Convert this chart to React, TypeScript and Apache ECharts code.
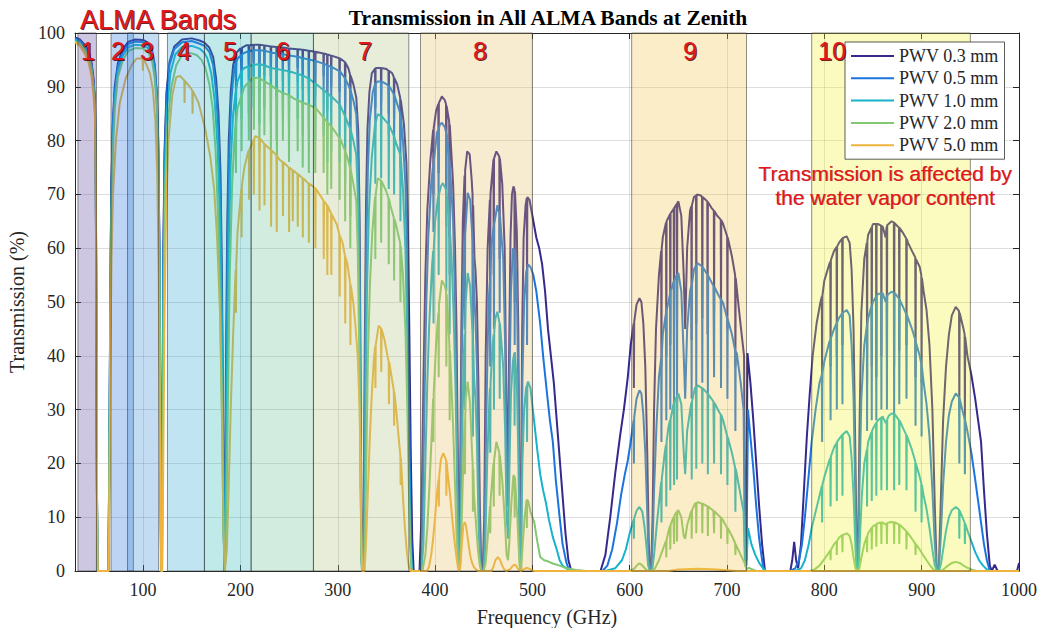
import React, { useEffect, useRef } from "react";
import * as echarts from "echarts";

type Pt = [number, number];

const seriesNames = ["PWV 0.3 mm", "PWV 0.5 mm", "PWV 1.0 mm", "PWV 2.0 mm", "PWV 5.0 mm"];
const seriesColors = ["#34298c", "#1b74de", "#18b2cc", "#80c871", "#eeb43c"];

const pwv03: Pt[] = [
[30,99.2],[35,98.8],[40,97.8],[44,96.6],[47,94.5],[49,91.5],[50.5,87.5],[51.3,76],[52,47],[52.6,14],[53.2,0],[64.3,0],[65.3,22],[66.3,52],[67.3,71],[68.8,83],[70.8,90],[74,94.3],[79,97],[85,98.4],[92,98.8],[100,98.7],[105,98.2],[109,97],[112,94],[114,89],[115.5,80],[116.8,60],[117.8,25],[118.5,0],[119.2,0],[119.8,25],[120.8,60],[122,78],[124,89],[127,94.5],[132,97.5],[140,98.8],[150,99],[158,98.6],[163,98.2],[168,97.3],[172,95.5],[175,91.5],[177.5,85],[179.5,74],[181,55],[182,32],[182.8,10],[183.3,0],[184.2,15],[185.3,42],[186.5,65],[188,80],[190,89],[192.5,94],[195,96],[195.4,91],[195.8,96.3],[200,97.2],[201.2,92.5],[201.6,97.3],[206,97.7],[208.3,97.7],[208.6,93.5],[208.9,97.7],[213.2,97.8],[213.5,94.5],[213.8,97.8],[219.2,97.8],[219.5,91],[219.8,97.8],[224.3,97.7],[224.6,94],[224.9,97.7],[231,97.5],[231.3,92],[231.6,97.5],[236.9,97.4],[237.2,90],[237.5,97.4],[243.3,97.3],[243.6,93],[243.9,97.3],[249.6,97.1],[249.9,91.5],[250.2,97.1],[258.5,97],[258.8,93.5],[259.1,97],[263.7,96.9],[264,92],[264.3,96.9],[270,96.7],[270.3,91],[270.6,96.7],[276.6,96.5],[276.9,90.5],[277.2,96.5],[285.2,96.2],[285.5,92],[285.8,96.2],[289,96],[289.3,88.5],[289.6,96],[293,95.8],[293.3,90],[293.6,95.8],[301.6,95.3],[301.9,89],[302.2,95.3],[307.3,94.6],[307.6,86],[307.9,94.5],[311,93.4],[312.6,92.3],[312.9,80],[313.2,92.1],[316,90.5],[319,88],[321,82],[322.5,65],[323.5,35],[324.3,8],[325,0],[325.8,0],[326.6,12],[327.8,42],[329,68],[330.5,82],[332.5,89],[335,92.5],[338.3,93.4],[338.6,86],[338.9,93.5],[344.3,93.5],[344.6,87],[344.9,93.5],[350,93.3],[352.1,93],[352.4,85],[352.7,93],[356,92.5],[357.6,91.8],[357.9,84],[358.2,91.6],[361,90.5],[364.1,88],[364.4,80],[364.7,87.6],[368,83],[370.5,76],[372,65],[373.5,45],[375,22],[376.5,6],[378,0],
[384,0],[386,10],[388,35],[390,55],[392,67],[395,76],[398,82],[398.3,70],[398.6,82.3],[401,85.5],[403.3,86.8],[403.6,74],[403.9,87],[407,88.2],[410,87.5],[411.2,86.8],[411.5,70],[411.8,86.5],[414.5,83.5],[414.8,62],[415.1,83],[418.5,72],[420.5,60],[422,45],[423.5,20],[424.6,0],[425.5,10],[427,45],[428.5,65],[430.3,73.5],[430.6,55],[430.9,74.5],[433,78],[435.5,77.5],[437.5,73],[438.5,70],[438.8,45],[439.1,68],[440.5,58],[441.5,56],[443,50],[444.5,35],[446,12],[447.5,0],[449,0],[450.5,10],[452,40],[454,60],[456.3,69],[456.6,48],[456.9,70],[460,76.5],[460.3,55],[460.6,76.7],[463,78],[466,77],[466.3,58],[466.6,76.7],[469,72],[471.5,60],[473,35],[474.5,15],[476,40],[477.5,62],[479,70],[480.5,71.5],[481.5,71],[481.8,50],[482.1,70.6],[484,63],[485.5,45],[487,5],[488,5],[489.5,45],[491,62],[493,68],[494.2,69.3],[494.5,52],[494.8,69.5],[497,69],[499,67],[501,65],[504,62],[507,60],[510,57],[513,52],[516,45],[519,40],[522,35],[525,28],[528,21],[531,14],[534,7],[537,2],[540,0],
[570,0],[575,3],[580,10],[585,18],[590,25],[594,30],[598,36],[601,42],[604,46],[604.3,34],[604.6,46.3],[607,49.5],[610,50.7],[612,50],[614,46],[616,38],[618,22],[619.5,6],[620.7,0],[622,0],[623.5,10],[625,30],[627,45],[630,55],[632.3,59.5],[632.6,38],[632.9,60],[634,62],[637.3,64.8],[637.6,40],[637.9,65],[641.4,66.3],[641.7,42],[642,66.5],[645.2,67.3],[645.5,45],[645.8,67.5],[648.3,68.2],[648.6,44],[648.9,68.4],[650,68.7],[653,66],[655.5,55],[657,45],[659,60],[662,67],[663.3,67.8],[663.6,43],[663.9,68],[666,69.5],[668.1,69.8],[668.4,46],[668.7,69.8],[669,70],[673,69.8],[674.3,69.5],[674.6,47],[674.9,69.5],[678,69],[679.7,68.7],[680,44],[680.3,68.6],[684,67.5],[686.4,67],[686.7,48],[687,66.9],[690,66],[693.5,65.3],[693.8,47],[694.1,65.2],[696,64.5],[700.1,62.2],[700.4,45],[700.7,62],[705,58.5],[708.3,55],[708.6,38],[708.9,54.5],[712,49],[715,44],[717.5,40],[718.5,2],[719.5,2],[721,40.5],[724,35],[727,28],[730,20],[733,12],[736,5],[739,0],
[765,0],[767,2],[769,5.4],[771,2],[773,0.5],[776,5],[779,15],[782,25],[785,33],[788,40],[792,46],[796,50],[797.4,51],[797.7,35],[798,51.2],[800,54],[805,57],[806.1,57.5],[806.4,38],[806.7,57.8],[810,59.5],[812.5,60.2],[812.8,40],[813.1,60.3],[815,61],[818.3,61.8],[818.6,42],[818.9,61.9],[823,62.2],[826,61],[828,56],[830,45],[832,20],[833.5,0],[834.5,0],[836,25],[838,48],[841,58],[843.6,61],[843.9,35],[844.2,61.3],[845,62.5],[848.4,63.8],[848.7,38],[849,64],[850,64.5],[853.1,64.5],[853.4,36],[853.7,64.5],[855,64.5],[858.3,64.2],[858.6,40],[858.9,64.1],[860,64],[863,62],[864,64],[864.3,40],[864.6,64.3],[866,64.5],[869,65],[871.4,64.8],[871.7,38],[872,64.7],[873,64.5],[876.7,63.8],[877,41],[877.3,63.8],[881,62.8],[884.1,61.8],[884.4,42],[884.7,61.7],[886,61],[890,59.5],[893.4,58.3],[893.7,36],[894,58],[898,56.5],[899.6,55],[899.9,35],[900.2,54.5],[902,52],[905,48.5],[908,42],[911,30],[913.5,12],[915.5,0],[917.5,0],[919.5,12],[922,28],[925,38],[928,44],[931,47.5],[935,49.1],[938.4,48.3],[938.7,30],[939,48],[943,45],[944.1,44],[944.4,28],[944.7,43.5],[947,40],[951,36.5],[955,32],[958,28],[961,24],[964,15],[967,7],[970,1],[972,0],[975,1.2],[978,0],[998,0],[1000,1.5]
];

const pwv05: Pt[] = [
[30,99],[35,98.6],[40,97.5],[44,96.3],[47,94.1],[49,91],[50.5,87],[51.3,75.5],[52,46.5],[52.6,14],[53.2,0],[64.3,0],[65.3,21],[66.3,51],[67.3,70],[68.8,82],[70.8,89],[74,93.8],[79,96.5],[85,98],[92,98.4],[100,98.3],[105,97.8],[109,96.5],[112,93.5],[114,88.5],[115.5,79],[116.8,59],[117.8,24],[118.5,0],[119.2,0],[119.8,24],[120.8,58],[122,76],[124,88],[127,94],[132,97],[140,98.3],[150,98.5],[158,98],[163,97.6],[168,96.5],[172,94],[175,89],[177.5,81],[179.5,68],[181,48],[182,27],[182.8,8],[183.5,0],[184.5,12],[185.6,38],[187,62],[188.5,77],[190.5,87],[193,92.5],[195.1,94.3],[195.4,88],[195.7,94.6],[197,95.2],[200.9,95.9],[201.2,90],[201.5,96],[204,96.3],[208.3,96.6],[208.6,91.5],[208.9,96.6],[213.2,96.8],[213.5,92],[213.8,96.8],[219.2,96.8],[219.5,89],[219.8,96.8],[224.3,96.7],[224.6,92],[224.9,96.7],[231,96.4],[231.3,90],[231.6,96.4],[236.9,96.2],[237.2,88],[237.5,96.2],[243.3,96.1],[243.6,91],[243.9,96.1],[249.6,95.8],[249.9,89.5],[250.2,95.8],[258.5,95.6],[258.8,91],[259.1,95.6],[263.7,95.3],[264,89.5],[264.3,95.3],[270,95.1],[270.3,88.5],[270.6,95.1],[276.6,94.8],[276.9,88],[277.2,94.8],[285.2,94.3],[285.5,89],[285.8,94.3],[289,94],[289.3,85.5],[289.6,94],[293,93.7],[293.3,87],[293.6,93.7],[301.6,92.9],[301.9,86],[302.2,92.9],[307.3,91.6],[307.6,82],[307.9,91.4],[310.5,90.5],[312.6,89.5],[312.9,76],[313.2,89.3],[316,87.5],[319,84.9],[321,76],[322.5,55],[323.5,25],[324.3,3],[325,0],[326.3,0],[327,8],[328,35],[329.3,60],[331,75],[333,84],[336,89],[338.3,90.5],[338.6,82],[338.9,90.6],[341,91],[344.3,91],[344.6,83],[344.9,91],[350,90.5],[352.1,90.2],[352.4,81],[352.7,90.1],[354,89.8],[357.6,88.6],[357.9,80],[358.2,88.4],[359,88],[364.1,85.1],[364.4,75],[364.7,84.6],[367,80],[369.5,72],[371.5,55],[373,35],[374.5,12],[376,2],[377,0],
[385,0],[387,8],[389,30],[391,50],[393,62],[396,72],[398,75.5],[398.3,63],[398.6,76],[402,81.5],[403.3,82],[403.6,68],[403.9,82.3],[405,83],[407,83.3],[410,82.5],[411.2,81.6],[411.5,64],[411.8,81.3],[413,79.5],[414.6,76.5],[414.9,55],[415.2,75.8],[418.5,65],[420.5,50],[422,32],[423.5,10],[424.6,0],[425.8,8],[427.3,38],[429,55],[430.3,61.5],[430.6,45],[430.9,62.5],[433.5,70.3],[436,69],[438,63],[438.6,61],[438.9,38],[439.2,59],[440,52],[441.5,47],[443,38],[444.5,22],[446,5],[447.5,0],[449.5,0],[451,8],[453,32],[455,50],[456.3,54],[456.6,38],[456.9,55],[458,61],[460.2,64],[460.5,45],[460.8,64.5],[464,68],[466.1,66.3],[466.4,48],[466.7,66],[470,58],[472,42],[473.5,20],[475,12],[476.5,35],[478,52],[480,60],[481.5,59.6],[481.8,42],[482.1,59.2],[484,52],[485.5,35],[487,3],[488.3,3],[489.7,35],[491.5,50],[493.5,55.5],[494.2,56],[494.5,42],[494.8,56.3],[495.5,57],[498,56.5],[501,55],[504,52],[508,46],[511,40],[515,33],[518,28],[521,24],[524,17],[528,10],[531,5],[535,1.5],[538,0],
[572,0],[577,1],[582,4],[587,9],[591,14],[595,18],[598,20.5],[601,24],[604,28],[604.3,20],[604.6,28.5],[607,32],[610,33.6],[612,33],[614,29],[616,22],[618,11],[619.5,2],[620.7,0],[622,0],[623.5,5],[625,15],[627.5,27],[630,36],[632.3,39.5],[632.6,24],[632.9,40],[634,44],[637.3,48],[637.6,28],[637.9,48.3],[641.4,51.5],[641.7,30],[642,52],[645.2,53.8],[645.5,31],[645.8,54],[648.3,55],[648.6,30],[648.9,55.1],[650,55.4],[653,52],[655.5,40],[657,32],[659,45],[662,52],[663.3,53],[663.6,32],[663.9,53.3],[666,56],[668.1,56.8],[668.4,34],[668.7,56.9],[670,57.2],[674.3,56.6],[674.6,35],[674.9,56.5],[680,55],[680.3,33],[680.6,54.9],[686,53],[686.4,52.9],[686.7,36],[687,52.8],[692,51],[693.5,50.5],[693.8,34],[694.1,50.4],[696,49.8],[700.1,47],[700.4,32],[700.7,46.8],[705,44],[708.3,41],[708.6,26],[708.9,40.8],[710,40.5],[714,35],[717,30],[718.5,2],[720,2],[721.5,30],[724,25],[727,19],[730,12],[733,6],[736,2],[738,0],
[765,0],[770,0.5],[774,2],[777,5],[780,10],[783,16],[787,24],[791,30],[795,35],[797.4,36.5],[797.7,24],[798,36.8],[800,39],[805,42.5],[806.1,43],[806.4,28],[806.7,43.3],[810,45],[812.5,46],[812.8,30],[813.1,46.2],[815,47],[818.3,47.9],[818.6,31],[818.9,48],[823,48.5],[826,47.5],[828,42],[830,32],[832,12],[833.5,0],[834.5,0],[836,15],[838,32],[841,42],[843.6,45.5],[843.9,26],[844.2,45.8],[845,47],[848.4,49.2],[848.7,28],[849,49.3],[850,50],[853.1,51],[853.4,28],[853.7,51.1],[855,51.5],[858.3,51.6],[858.6,30],[858.9,51.6],[860,51.6],[863,50],[864,51],[864.3,30],[864.6,51.2],[866,51.5],[869,51.9],[871.4,51.7],[871.7,29],[872,51.7],[873,51.5],[876.7,50.6],[877,31],[877.3,50.5],[881,49],[884.1,47.8],[884.4,32],[884.7,47.7],[886,47],[890,45],[893.4,43],[893.7,27],[894,42.5],[898,40],[899.6,38.5],[899.9,25],[900.2,38],[902,35],[905,31],[908,25],[911,15],[913.5,5],[915.5,0],[917.5,0],[919.5,6],[922,16],[925,24],[928,29],[931,31.5],[935,33],[938.4,32.3],[938.7,20],[939,32],[943,29],[944.1,28.3],[944.4,18],[944.7,28],[947,26],[951,22],[955,17],[958,13],[961,9],[964,5],[967,2],[970,0],[1000,0]
];

const pwv10: Pt[] = [
[30,98.8],[35,98.3],[40,97.2],[44,96],[47,93.7],[49,90.5],[50.5,86.5],[51.3,75],[52,46],[52.6,13.5],[53.2,0],[64.3,0],[65.3,20],[66.3,50],[67.3,68.5],[68.8,80.5],[70.8,88],[74,93],[79,95.8],[85,97.4],[92,97.8],[100,97.7],[105,97.2],[109,95.8],[112,92.5],[114,87.5],[115.5,78],[116.8,57],[117.8,22],[118.5,0],[119.3,0],[120,22],[121,56],[122.3,74],[124.5,86],[128,92.5],[133,96],[140,97.4],[150,97.6],[158,97.1],[163,96.3],[166,95.3],[170,92.5],[173.5,87.5],[176.5,79],[178.8,66],[180.5,48],[181.8,27],[182.8,8],[183.8,0],[185,12],[186.3,38],[188,60],[190,76],[192.5,85],[195.1,89],[195.4,80],[195.7,89.5],[197,91],[200.9,92.8],[201.2,84],[201.5,93],[204,93.5],[208.3,93.8],[208.6,85],[208.9,93.8],[213.2,94.1],[213.5,86],[213.8,94.1],[219.2,94.2],[219.5,83],[219.8,94.2],[224.3,94],[224.6,86],[224.9,94],[231,93.5],[231.3,83],[231.6,93.5],[236.9,93.3],[237.2,80],[237.5,93.3],[243.3,93.1],[243.6,85],[243.9,93.1],[249.6,92.9],[249.9,82],[250.2,92.9],[258.5,92.4],[258.8,84],[259.1,92.4],[263.7,92.1],[264,81],[264.3,92.1],[270,91.5],[270.3,80],[270.6,91.5],[276.6,90.6],[276.9,80],[277.2,90.6],[285.2,89.4],[285.5,81],[285.8,89.4],[289,88.8],[289.3,76],[289.6,88.8],[293,88.2],[293.3,78],[293.6,88.2],[301.6,86.8],[301.9,76],[302.2,86.7],[307.3,84.6],[307.6,72],[307.9,84.4],[310.5,83.2],[312.6,82.2],[312.9,66],[313.2,82],[316,80],[319,77.4],[321,68],[322.5,45],[323.5,18],[324.3,2],[325,0],[326.6,0],[327.4,6],[328.5,28],[330,52],[332,67],[335,77],[338.3,83],[338.6,72],[338.9,83.3],[341,84.9],[344.3,84.6],[344.6,73],[344.9,84.6],[350,83.5],[352.1,83],[352.4,71],[352.7,82.9],[354,82.4],[357.6,80.9],[357.9,70],[358.2,80.7],[359,80],[364.1,77.5],[364.4,65],[364.7,77],[367,71],[369.5,60],[371.5,42],[373,22],[374.5,6],[376,0],
[386,0],[388,5],[390,20],[392,35],[394,46],[397,57],[398.1,59.5],[398.4,46],[398.7,60],[400,65],[403,69.5],[403.4,69.7],[403.7,55],[404,70],[406,71.5],[408,72.1],[411,71],[411.3,70.6],[411.6,52],[411.9,70.2],[414,66.5],[414.7,64],[415,44],[415.3,63],[417,58],[419,48],[421,34],[422.5,18],[423.8,4],[424.7,0],[426,4],[427.5,22],[429.5,40],[430.4,44],[430.7,30],[431,45],[431.5,50],[433.5,55.4],[436,53],[438,46],[438.6,44],[438.9,25],[439.2,42],[440,36],[441.5,32],[443,24],[444.5,10],[446,2],[447.5,0],[450,0],[451.5,4],[453.5,20],[456,33],[456.4,34],[456.7,22],[457,35],[459,42],[460.2,44],[460.5,30],[460.8,44.5],[462,47],[464,48.2],[466.1,46.2],[466.4,32],[466.7,46],[467,46],[470,38],[472,26],[473.5,10],[475,6],[476.5,20],[478,33],[480,39],[481.4,40.5],[481.7,27],[482,40.7],[484,35],[485.5,22],[487,1],[488.3,1],[489.7,20],[491.5,30],[493.5,34],[494.2,34.5],[494.5,24],[494.8,34.8],[495.5,35.2],[498,34],[502,27.5],[505,22.5],[508,18],[511,15],[514,12.6],[517,9.5],[521,6.3],[525,4],[528,2],[531,1],[535,0.5],[540,0],
[575,0],[585,0.5],[592,2],[596,4],[600,7],[604,9.5],[604.3,6],[604.6,9.8],[607,11.2],[610,11.9],[613,11],[615,8.5],[617,5],[619,1],[620.7,0],[623,0],[625,3],[628,9],[632,16],[632.3,16.5],[632.6,9],[632.9,17],[636,22],[637.3,23.5],[637.6,12],[637.9,24],[640,27],[641.4,28],[641.7,15],[642,28.3],[645,31],[645.3,31.2],[645.6,16],[645.9,31.4],[648.3,32.4],[648.6,17],[648.9,32.6],[650,33],[653,31],[655.5,22],[657,18],[659,26],[663,31],[663.4,31.3],[663.7,17],[664,31.5],[667,34],[668.1,34.2],[668.4,19],[668.7,34.2],[670,34.5],[674.3,34],[674.6,20],[674.9,34],[680,33],[680.3,18],[680.6,32.9],[686,31.5],[686.4,31.4],[686.7,20],[687,31.3],[692,29.5],[693.5,29.1],[693.8,18],[694.1,29],[696,28],[700.1,25.1],[700.4,16],[700.7,24.9],[705,22],[708.3,19.2],[708.6,11],[708.9,19],[710,18],[714,14],[717,11],[718.5,1],[720,1],[721.5,8],[725,5],[729,3],[733,1.5],[737,0.5],[740,0],
[770,0],[776,0.5],[780,2],[784,5],[787,8],[791,11],[795,14],[797.4,15.8],[797.7,9],[798,16],[800,17.5],[805,20.5],[806.1,21],[806.4,12],[806.7,21.3],[810,23],[812.5,23.8],[812.8,13],[813.1,24],[815,24.5],[818.3,25.3],[818.6,14],[818.9,25.4],[823,26],[826,25],[828,21],[830,14],[832,4],[833.5,0],[835,0],[836.5,6],[838.5,14],[841,20],[843.6,22.5],[843.9,12],[844.2,22.8],[845,24],[848.4,25.8],[848.7,13],[849,26],[850,26.5],[853.1,27.5],[853.4,14],[853.7,27.6],[855,28],[858.3,28.5],[858.6,15],[858.9,28.6],[860,28.7],[863,27.5],[864,28],[864.3,15],[864.6,28.2],[866,28.8],[869,29.3],[871.4,29.1],[871.7,15],[872,29.1],[873,29],[876.7,28],[877,16],[877.3,28],[881,26.5],[884.1,25.3],[884.4,15],[884.7,25.2],[886,24.5],[890,22.5],[893.4,20.4],[893.7,11],[894,20],[898,17.5],[899.6,16.3],[899.9,9],[900.2,16],[902,14],[905,11.5],[908,8],[911,4],[913.5,1],[916,0],[918,0],[920,1.5],[922.5,4.5],[925,7.5],[928,10],[931,11.3],[935,11.9],[938.4,11.4],[938.7,6],[939,11.2],[943,9.5],[944.1,9],[944.4,5],[944.7,8.8],[947,7.5],[951,5.5],[955,3.5],[959,2],[963,1],[967,0.3],[970,0],[1000,0]
];

const pwv20: Pt[] = [
[30,98.5],[35,98],[40,96.8],[44,95.5],[47,93.2],[49,90],[50.5,86],[51.3,74.5],[52,45.5],[52.6,13],[53.2,0],[64.4,0],[65.4,19],[66.4,48],[67.4,66],[68.9,78],[71,86],[74,91.8],[79,94.9],[85,96.7],[92,97.2],[100,97.1],[105,96.5],[109,95],[112,91.5],[114,86.5],[115.5,77],[116.8,55],[117.8,20],[118.6,0],[119.4,0],[120.2,20],[121.3,53],[122.7,71],[125,83],[129,90],[134,94],[140,95.9],[148,96.3],[155,95.9],[160,95],[164,93.5],[168,90.5],[171.5,86],[174.5,78],[177,66],[179.3,48],[181,28],[182.5,8],[184,0],[185.5,9],[187,30],[189,55],[191.5,72],[194,81],[195.1,83],[195.4,74],[195.7,83.5],[197,86],[200.9,88.3],[201.2,78],[201.5,88.5],[204,90],[208.3,90.8],[208.6,80],[208.9,90.9],[212,91.5],[213.5,91.6],[213.8,82],[214.1,91.6],[217,91.7],[219.2,91.6],[219.5,78],[219.8,91.6],[224.3,91],[224.6,81],[224.9,91],[231,90.3],[231.3,78],[231.6,90.3],[235,89.8],[237.2,89.5],[237.5,75],[237.8,89.5],[243.3,88.8],[243.6,80],[243.9,88.8],[249.6,88.5],[249.9,76],[250.2,88.4],[255,87.8],[258.5,87.5],[258.8,78],[259.1,87.5],[263.7,87.1],[264,75],[264.3,87],[270,86.7],[270.3,74],[270.6,86.6],[276.6,86.1],[276.9,74],[277.2,86.1],[285.2,84.3],[285.5,74],[285.8,84.2],[289,83.5],[289.3,70],[289.6,83.4],[293,82.7],[293.3,71],[293.6,82.6],[301.6,80.5],[301.9,69],[302.2,80.5],[307.3,78.2],[307.6,65],[307.9,78],[310.5,76.5],[312.6,75],[312.9,60],[313.2,74.7],[316,72],[319,68.8],[320.5,60],[322,42],[323.3,18],[324.3,3],[325.2,0],[327,0],[328,5],[329.5,22],[331,40],[333,53],[335.5,63],[338.3,69.5],[338.6,58],[338.9,69.8],[341,73],[344.3,72.6],[344.6,61],[344.9,72.5],[350,70.5],[352.1,69.3],[352.4,57],[352.7,69.2],[354,68],[357.6,65.6],[357.9,54],[358.2,65.4],[359,65],[364.1,61],[364.4,50],[364.7,60.5],[367,55],[369.5,45],[371.5,30],[373,16],[374.5,5],[376,0],
[387,0],[390,3],[392,8],[394,15],[396,23],[398,32],[398.3,24],[398.6,33],[401,42],[403.4,48],[403.7,36],[404,49.5],[407,54],[410,53],[411.3,52],[411.6,38],[411.9,51.5],[413,48],[414.7,42],[415,28],[415.3,41],[416,38],[418.5,27],[420.5,16],[422,7],[423.5,1.5],[424.7,0],[426,1.5],[427.5,10],[429.5,24],[430.4,28],[430.7,18],[431,29],[431.5,32],[433.5,35.2],[436,31],[438,22],[438.6,20],[438.9,11],[439.2,19],[440,14],[442,9],[444,4],[446,1],[447.5,0],[450,0],[452,1.5],[454,6],[456.4,12],[456.7,7],[457,13],[460,20],[460.3,12],[460.6,20.5],[463,24],[466,22],[466.3,14],[466.6,21.5],[469,17],[471.5,10],[473.5,3],[475,2],[476.5,6],[478.5,13],[480.5,17.8],[481.5,17.6],[481.8,10],[482.1,17.4],[482.5,16],[484.5,10],[486,4],[487.3,0.3],[488.5,0.3],[490,5],[492,10],[494,13.2],[494.3,8],[494.6,13.3],[496,12.8],[498,11],[502,9],[505,5.5],[508,2.6],[512,2],[516,1.8],[521,1.4],[528,1],[535,0.5],[545,0.2],[555,0],
[600,0],[605,0.5],[608,1.2],[610,1.4],[612,1.2],[615,0.6],[618,0.1],[622,0],[626,0.5],[630,2],[635,4.5],[637.3,5.6],[637.6,2.5],[637.9,5.8],[640,7.5],[641.4,8.4],[641.7,4],[642,8.6],[645,10],[645.3,10.1],[645.6,5],[645.9,10.3],[648.3,11],[648.6,5.5],[648.9,11.1],[650,11.3],[653,10],[655.5,6.5],[657,6],[659,8.5],[663,11],[663.4,11.2],[663.7,6],[664,11.3],[667,12.5],[668.1,12.6],[668.4,7],[668.7,12.6],[670,12.8],[674.3,12.5],[674.6,7],[674.9,12.5],[680,12],[680.3,6.5],[680.6,12],[686,11.2],[686.4,11.1],[686.7,7],[687,11.1],[692,10.2],[693.5,10],[693.8,6],[694.1,9.9],[696,9.4],[700.1,8],[700.4,5],[700.7,8],[705,6.5],[708.3,5.2],[708.6,3],[708.9,5],[710,4.5],[714,3],[718,1.5],[720,0.3],[722,0.6],[726,0.3],[730,0],
[785,0],[790,0.3],[795,1],[800,2.2],[805,3.5],[806.1,3.8],[806.4,2],[806.7,3.9],[810,5],[812.5,5.5],[812.8,3],[813.1,5.6],[815,6.2],[818.3,6.7],[818.6,3.5],[818.9,6.7],[823,7],[826,6.5],[828,5],[830,2.5],[832,0.5],[834,0],[836,0.5],[838,2.5],[841,5],[843.6,6.4],[843.9,3.5],[844.2,6.5],[845,7],[848.4,8],[848.7,4],[849,8.1],[850,8.3],[853.1,8.7],[853.4,4.5],[853.7,8.7],[855,8.9],[858.3,9],[858.6,5],[858.9,9],[860,9],[863,8.6],[864,8.9],[864.3,5],[864.6,8.9],[866,9],[869,9.1],[871.4,9.05],[871.7,5],[872,9],[873,9],[876.7,8.6],[877,5],[877.3,8.6],[881,8],[884.1,7.4],[884.4,4],[884.7,7.3],[886,7],[890,6],[893.4,5.1],[893.7,3],[894,5],[898,4],[902,2.8],[905,2],[908,1.2],[911,0.5],[914,0],[920,0],[923,0.4],[927,1],[931,1.5],[935,1.7],[939,1.5],[943,1],[947,0.6],[952,0.2],[957,0],[1000,0]
];

const pwv50: Pt[] = [
[30,98.3],[35,97.6],[40,96.2],[44,94.5],[47,92],[49,88.5],[50.5,84.5],[51.3,73],[52,44],[52.6,12],[53.2,0],[64.5,0],[65.5,16],[66.5,42],[67.5,58],[69,70],[72,80],[76,87],[82,91.5],[88,94],[93,95.2],[98,95.3],[99.5,95.2],[99.8,93],[100.1,95.2],[103,94.3],[107,92.5],[110,89.5],[112.5,84],[114.5,74],[116,55],[117.3,22],[118.5,0],[119.6,0],[120.6,18],[121.8,45],[123.5,66],[126,80],[130,88.5],[134,91.8],[138,92],[142.3,91.2],[142.6,87],[142.9,91.1],[148,90],[150.5,89.3],[150.8,85],[151.1,89.2],[157,87],[164,82],[169,77],[173,71],[176,62],[179,48],[181,30],[182.5,8],[184,0],[186,4],[188,16],[190,30],[192.5,44],[195.1,56],[195.4,48],[195.7,57],[197,63],[200.9,71],[201.2,62],[201.5,71.6],[204,75],[208,78],[208.6,78.2],[208.9,69],[209.2,78.3],[213.5,80.2],[213.8,70],[214.1,80.3],[215,80.8],[219.3,80.5],[219.6,67],[219.9,80.4],[222,80],[224.4,79.4],[224.7,68],[225,79.3],[230,78.5],[231.2,78.3],[231.5,64],[231.8,78.2],[237,77.3],[237.3,63],[237.6,77.2],[240,76.5],[243.4,76],[243.7,66],[244,76],[249.7,75],[250,63],[250.3,75],[253.5,74.5],[253.8,65],[254.1,74.5],[258.6,73.8],[258.9,64],[259.2,73.8],[263.8,73],[264.1,62],[264.4,73],[270,72],[270.3,61],[270.6,72],[276.7,71.2],[277,60],[277.3,71.1],[283,69.5],[285.3,68.8],[285.6,58],[285.9,68.7],[289,68],[289.3,55],[289.6,67.9],[293.1,66.5],[293.4,55],[293.7,66.3],[299,64.4],[301.7,62.5],[302,51],[302.3,62.3],[305,61],[307.4,58.6],[307.7,46],[308,58.3],[310,57],[312.7,53.5],[313,42],[313.3,53.2],[316,49.8],[318,46],[320.5,40],[322.5,30],[323.5,18],[324.5,4],[325.2,0],[327.5,0],[329,5],[331,15],[333,25],[335,33],[337,39],[338.4,41.7],[338.7,34],[339,42],[342,45.6],[344.4,45.1],[344.7,37],[345,45],[348,43],[351,40],[352.3,39],[352.6,31],[352.9,38.8],[357,34.2],[357.6,33.5],[357.9,27],[358.2,33.2],[360,30],[363,24],[364.3,21.5],[364.6,16],[364.9,21],[367,13.7],[369,8],[371,3.5],[373,0.8],[375,0],
[392,0],[394,1],[396,3],[398,6],[400,10],[402,14.5],[403.6,17],[403.9,12],[404.2,17.6],[406,20.8],[408.4,21.9],[410.5,21],[411.3,20.6],[411.6,14],[411.9,20.3],[413,18],[415.5,14],[418,9],[420,5.5],[422,2.5],[423.5,0.7],[424.7,0],[426,0.8],[427.5,5],[429,8.5],[430.5,9.1],[432,8.2],[434,5.5],[436,3],[438,1.5],[440,0.7],[442,0.3],[444,0],[458,0],[460,0.8],[462,2],[464.6,2.6],[467,2],[469,1],[471,0.3],[473,0],[477,0.3],[480,1],[482,1.2],[484,0.8],[486,0.2],[488,0],[491,0.3],[494,0.6],[497,0.4],[500,0.1],[503,0],[640,0],[650,0.3],[670,0.4],[690,0.3],[710,0],[1000,0]
];

const bandNumbers = ["1", "2", "3", "4", "5", "6", "7", "8", "9", "10"];
const bandStart = [33, 67, 84, 125, 163, 211, 275, 385, 602, 787];
const bandEnd = [52, 90, 116, 163, 211, 275, 373, 500, 720, 950];
const bandFill = [
  "rgba(88,70,155,0.3)",
  "rgba(40,112,221,0.3)",
  "rgba(58,138,211,0.3)",
  "rgba(45,165,211,0.3)",
  "rgba(45,185,185,0.3)",
  "rgba(108,191,152,0.3)",
  "rgba(175,195,128,0.3)",
  "rgba(228,188,98,0.3)",
  "rgba(242,195,72,0.3)",
  "rgba(242,242,48,0.3)",
];
const bandLabelX = [88, 118, 147, 184, 230, 283, 365, 480, 690, 832];

const titleText = "Transmission in All ALMA Bands at Zenith";
const xName = "Frequency (GHz)";
const yName = "Transmission (%)";
const noteLines = ["Transmission is affected by", "the water vapor content"];

export default function App() {
  const ref = useRef<HTMLDivElement>(null);
  useEffect(() => {
    const chart = echarts.init(ref.current!, undefined, { renderer: "svg" });
    const serif = '"Liberation Serif", "Times New Roman", serif';
    const sans = '"Liberation Sans", Arial, sans-serif';
    const ink = "#262626";
    const red = "#e3161c";
    const shadow = "rgba(80,0,0,0.85)";

    const allData = [pwv03, pwv05, pwv10, pwv20, pwv50];
    const lineSeries = allData.map((d, i) => ({
      name: seriesNames[i],
      type: "line",
      data: d,
      showSymbol: false,
      symbol: "none",
      lineStyle: { color: seriesColors[i], width: 2 },
      itemStyle: { color: seriesColors[i] },
      z: 2,
      silent: true,
      clip: true,
    }));

    const bandSeries = {
      name: "bands",
      type: "custom",
      z: 3,
      silent: true,
      data: bandStart.map((s, i) => [s, bandEnd[i], i]),
      encode: { x: [0, 1] },
      renderItem: (_p: any, api: any) => {
        const s = api.value(0);
        const e = api.value(1);
        const idx = api.value(2);
        const tl = api.coord([s, 100]);
        const br = api.coord([e, 0]);
        return {
          type: "rect",
          shape: { x: tl[0], y: tl[1], width: br[0] - tl[0], height: br[1] - tl[1] },
          style: { fill: bandFill[idx], stroke: "rgba(50,50,50,0.55)", lineWidth: 1 },
        };
      },
    };

    const graphics: any[] = [];
    const shadowText = (text: string, x: number, y: number, size: number, align: string) => {
      graphics.push({
        type: "text", x: x + 1.2, y: y + 1.2, z: 100,
        style: { text, fontSize: size, fontFamily: sans, fill: shadow, align, verticalAlign: "middle" },
      });
      graphics.push({
        type: "text", x, y, z: 101,
        style: { text, fontSize: size, fontFamily: sans, fill: red, align, verticalAlign: "middle" },
      });
    };
    graphics.push({
      type: "text", x: 548, y: 18, z: 100,
      style: { text: titleText, fontSize: 21.5, fontWeight: "bold", fontFamily: serif, fill: "#000", align: "center", verticalAlign: "middle" },
    });
    shadowText("ALMA Bands", 80, 20, 27, "left");
    bandNumbers.forEach((b, i) => shadowText(b, bandLabelX[i], 51, 25, "center"));
    noteLines.forEach((t, i) => {
      graphics.push({
        type: "text", x: 885.7, y: 173.7 + i * 24, z: 100,
        style: { text: t, fontSize: 21, fontFamily: sans, fill: "rgba(90,0,0,0.5)", align: "center", verticalAlign: "middle" },
      });
      graphics.push({
        type: "text", x: 885, y: 173 + i * 24, z: 101,
        style: { text: t, fontSize: 21, fontFamily: sans, fill: red, align: "center", verticalAlign: "middle" },
      });
    });

    const axisLineStyle = { color: ink, width: 1 };
    const option: any = {
      animation: false,
      backgroundColor: "#fff",
      grid: { left: 75, right: 24, top: 33, bottom: 57, containLabel: false, outerBoundsMode: "none" },
      xAxis: [
        {
          type: "value", min: 30, max: 1000, splitNumber: 10, position: "bottom",
          axisLine: { show: true, onZero: false, lineStyle: axisLineStyle },
          axisTick: { show: true, inside: true, length: 6, lineStyle: axisLineStyle },
          axisLabel: {
            showMinLabel: false, color: ink, fontFamily: serif, fontSize: 18, margin: 10,
            formatter: (v: number) => (v % 100 === 0 ? String(v) : ""),
          },
          splitLine: { show: true, lineStyle: { color: "rgba(0,0,0,0.13)", width: 1 } },
          name: xName, nameLocation: "middle", nameGap: 36,
          nameTextStyle: { color: ink, fontFamily: serif, fontSize: 20 },
        },
        {
          type: "value", min: 30, max: 1000, splitNumber: 10, position: "top",
          axisLine: { show: true, onZero: false, lineStyle: axisLineStyle },
          axisTick: { show: true, inside: true, length: 6, lineStyle: axisLineStyle },
          axisLabel: { show: false },
          splitLine: { show: false },
        },
      ],
      yAxis: [
        {
          type: "value", min: 0, max: 100, interval: 10, position: "left",
          axisLine: { show: true, onZero: false, lineStyle: axisLineStyle },
          axisTick: { show: true, inside: true, length: 6, lineStyle: axisLineStyle },
          axisLabel: { color: ink, fontFamily: serif, fontSize: 18, margin: 10 },
          splitLine: { show: true, lineStyle: { color: "rgba(0,0,0,0.13)", width: 1 } },
          name: yName, nameLocation: "middle", nameGap: 37, nameRotate: 90,
          nameTextStyle: { color: ink, fontFamily: serif, fontSize: 20 },
        },
        {
          type: "value", min: 0, max: 100, interval: 10, position: "right",
          axisLine: { show: true, onZero: false, lineStyle: axisLineStyle },
          axisTick: { show: true, inside: true, length: 6, lineStyle: axisLineStyle },
          axisLabel: { show: false },
          splitLine: { show: false },
        },
      ],
      legend: {
        data: seriesNames,
        orient: "vertical",
        left: 845, top: 42,
        itemWidth: 43, itemHeight: 2, itemGap: 4.3,
        icon: "rect",
        backgroundColor: "#fff",
        borderColor: "#333", borderWidth: 0.8, borderRadius: 0,
        padding: [5, 6, 5, 6],
        z: 10,
        selectedMode: false,
        textStyle: { fontFamily: serif, fontSize: 18, color: ink },
      },
      series: [...lineSeries, bandSeries],
      graphic: graphics,
    };
    chart.setOption(option);
    return () => chart.dispose();
  }, []);
  return (
    <div
      ref={ref}
      style={{ position: "fixed", left: 0, top: 0, width: 1043, height: 628, background: "#fff" }}
    />
  );
}
